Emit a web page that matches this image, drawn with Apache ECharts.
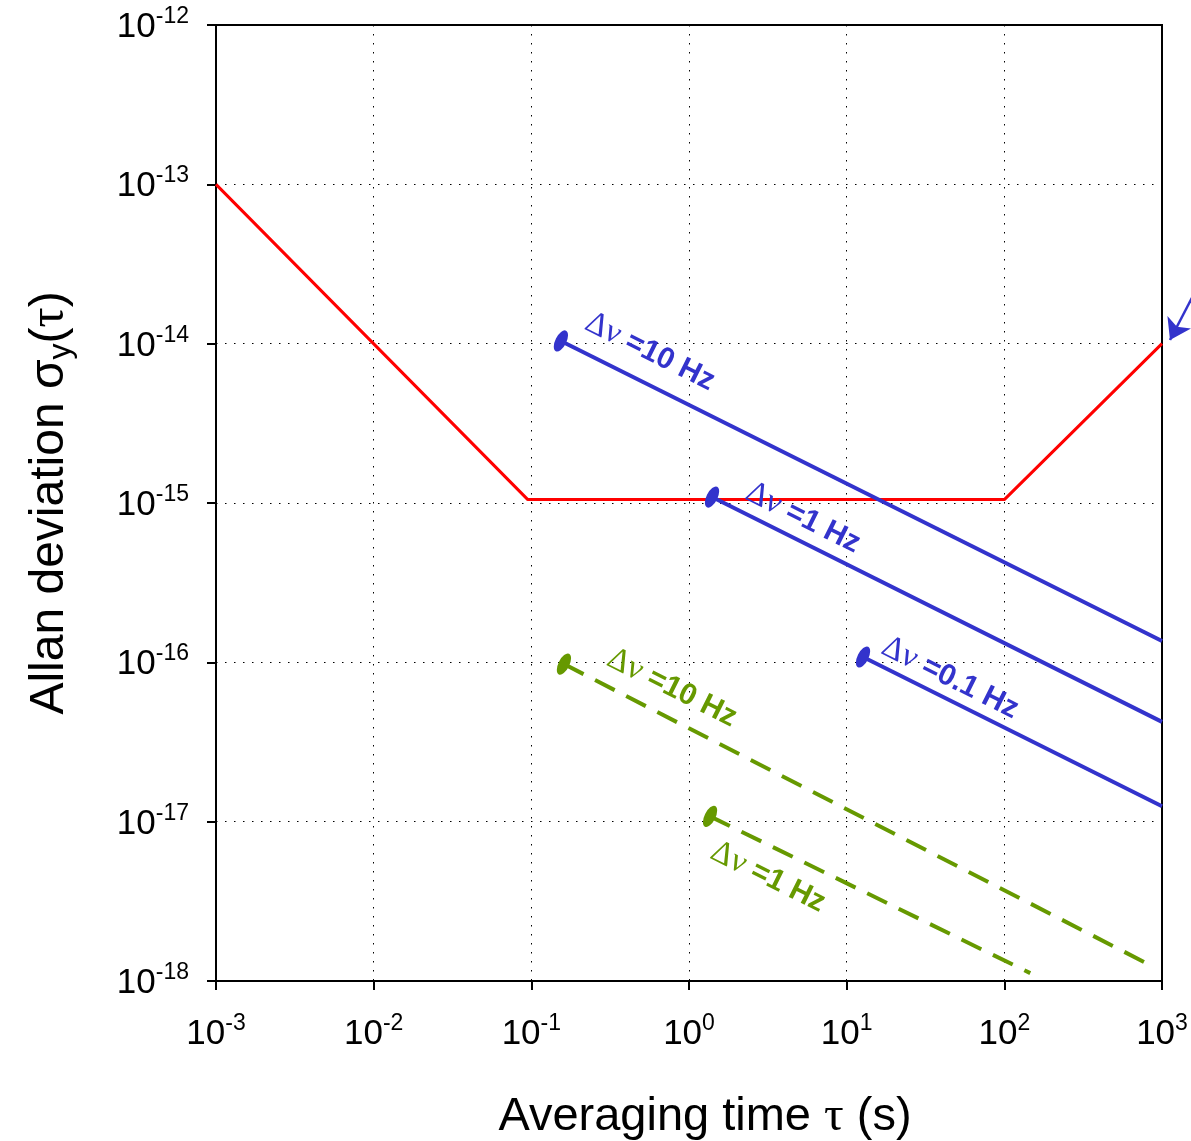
<!DOCTYPE html>
<html><head><meta charset="utf-8">
<script src="https://cdn.jsdelivr.net/npm/echarts@6/dist/echarts.min.js"></script>
<style>html,body{margin:0;padding:0;background:#fff}#c{width:1191px;height:1141px}</style>
</head><body><div id="c"></div>
<script>
// ---- data ----
const xTickExponents = [-3, -2, -1, 0, 1, 2, 3];
const yTickExponents = [-18, -17, -16, -15, -14, -13, -12];

const redTau = [0.001, 0.095, 100, 1000];
const redSigma = [1e-13, 1.05e-15, 1.05e-15, 1e-14];

const blue10Tau = [0.154, 1000];
const blue10Sigma = [1.04e-14, 1.36e-16];
const blue1Tau = [1.40, 1000];
const blue1Sigma = [1.09e-15, 4.23e-17];
const blue01Tau = [12.7, 1000];
const blue01Sigma = [1.08e-16, 1.25e-17];

const green10Tau = [0.161, 839];
const green10Sigma = [9.75e-17, 1.26e-18];
const green1Tau = [1.36, 146];
const green1Sigma = [1.08e-17, 1.12e-18];

const arrowTau = [1549, 1124];
const arrowSigma = [1.94e-14, 1.055e-14];

const blueLabels = ['=10 Hz', '=1 Hz', '=0.1 Hz'];
const greenLabels = ['=10 Hz', '=1 Hz'];

// ---- styles ----
const RED = '#ff0000', BLUE = '#3333cc', GREEN = '#669900';
const SANS = 'Liberation Sans';
const SERIF = 'Liberation Serif';

function pts(t, s) { return t.map((v, i) => [v, s[i]]); }

function trendSeries(name, tau, sigma, color, dashed) {
  const p = pts(tau, sigma);
  return {
    name, type: 'line', z: 3,
    symbol: 'circle', symbolSize: [11, 23], symbolRotate: -26.5, showSymbol: true,
    data: [{ value: p[0] }, { value: p[1], symbol: 'none' }],
    lineStyle: { color, width: 4, type: dashed ? [22, 13] : 'solid', cap: 'butt' },
    itemStyle: { color, borderWidth: 0 },
    emphasis: { disabled: true }, silent: true, animation: false
  };
}

const labelOffsets = [[84.6, -29.9], [90.8, -21.8], [87.3, -20], [107.4, -26.7], [79.1, 28.7]];
const starts = [
  [blue10Tau[0], blue10Sigma[0], blueLabels[0], BLUE],
  [blue1Tau[0], blue1Sigma[0], blueLabels[1], BLUE],
  [blue01Tau[0], blue01Sigma[0], blueLabels[2], BLUE],
  [green10Tau[0], green10Sigma[0], greenLabels[0], GREEN],
  [green1Tau[0], green1Sigma[0], greenLabels[1], GREEN]
];
const labelData = starts.map((s, i) => ({
  value: [s[0], s[1]],
  label: {
    show: true, position: 'inside', rotate: -26.5, offset: labelOffsets[i],
    color: s[3], textBorderWidth: 0, opacity: 1,
    formatter: '{g|\u0394\u03bd}{b| ' + s[2] + '}',
    rich: {
      g: { fontFamily: SERIF, fontSize: 33, color: s[3], textBorderWidth: 0 },
      b: { fontFamily: SANS, fontSize: 30, fontWeight: 'bold', color: s[3], textBorderWidth: 0 }
    }
  }
}));

const tickRich = {
  b: { fontFamily: SANS, fontSize: 35, color: '#000', lineHeight: 40, verticalAlign: 'bottom' },
  s: { fontFamily: SANS, fontSize: 23, color: '#000', lineHeight: 30, verticalAlign: 'top' }
};
function tickFmt(v) { return '{b|10}{s|' + Math.round(Math.log10(v)) + '}'; }

const chart = echarts.init(document.getElementById('c'), null, { renderer: 'canvas' });
chart.setOption({
  animation: false,
  backgroundColor: '#fff',
  grid: { left: 216, right: 29, top: 25, bottom: 160, show: true, borderColor: '#000', borderWidth: 2, containLabel: false, outerBoundsMode: 'none' },
  xAxis: {
    type: 'log', logBase: 10,
    min: Math.pow(10, xTickExponents[0]), max: Math.pow(10, xTickExponents[xTickExponents.length - 1]),
    splitNumber: xTickExponents.length - 1,
    name: '{a|Averaging time }{g|\u03c4}{a| (s)}',
    nameLocation: 'middle', nameGap: 109,
    nameTextStyle: {
      padding: [0, 0, 0, 32],
      rich: {
        a: { fontFamily: SANS, fontSize: 47, color: '#000', verticalAlign: 'middle', lineHeight: 54 },
        g: { fontFamily: SERIF, fontSize: 49, color: '#000', verticalAlign: 'middle', lineHeight: 54 }
      }
    },
    axisLine: { show: true, lineStyle: { color: '#000', width: 2 } },
    axisTick: { show: true, length: 9, inside: false, lineStyle: { color: '#000', width: 2 } },
    minorTick: { show: false },
    axisLabel: { margin: 31, formatter: tickFmt, rich: tickRich },
    splitLine: { show: true, lineStyle: { color: '#000', width: 1, type: [1.5, 7.5] } }
  },
  yAxis: {
    type: 'log', logBase: 10,
    min: Math.pow(10, yTickExponents[0]), max: Math.pow(10, yTickExponents[yTickExponents.length - 1]),
    splitNumber: yTickExponents.length - 1,
    name: '{a|Allan deviation \u03c3}{s|y}{a|(}{g|\u03c4}{a|)}',
    nameLocation: 'middle', nameGap: 139,
    nameTextStyle: {
      rich: {
        a: { fontFamily: SANS, fontSize: 48, color: '#000', verticalAlign: 'middle', lineHeight: 54 },
        s: { fontFamily: SANS, fontSize: 32, color: '#000', verticalAlign: 'bottom', lineHeight: 28 },
        g: { fontFamily: SERIF, fontSize: 50, color: '#000', verticalAlign: 'middle', lineHeight: 54 }
      }
    },
    axisLine: { show: true, lineStyle: { color: '#000', width: 2 } },
    axisTick: { show: true, length: 9, inside: false, lineStyle: { color: '#000', width: 2 } },
    minorTick: { show: false },
    axisLabel: { margin: 27, formatter: tickFmt, rich: tickRich },
    splitLine: { show: true, lineStyle: { color: '#000', width: 1, type: [1.5, 7.5] } }
  },
  series: [
    {
      name: 'limit', type: 'line', z: 2, symbol: 'none', silent: true,
      data: pts(redTau, redSigma),
      lineStyle: { color: RED, width: 3 }, itemStyle: { color: RED }
    },
    trendSeries('blue10', blue10Tau, blue10Sigma, BLUE, false),
    trendSeries('blue1', blue1Tau, blue1Sigma, BLUE, false),
    trendSeries('blue01', blue01Tau, blue01Sigma, BLUE, false),
    trendSeries('green10', green10Tau, green10Sigma, GREEN, true),
    trendSeries('green1', green1Tau, green1Sigma, GREEN, true),
    {
      name: 'labels', type: 'scatter', z: 5, silent: true,
      symbolSize: 1, itemStyle: { color: 'rgba(255,255,255,0)' },
      data: labelData
    },
    {
      name: 'arrow', type: 'lines', coordinateSystem: 'cartesian2d', clip: false, z: 5, silent: true,
      symbol: ['none', 'arrow'], symbolSize: 20,
      lineStyle: { color: BLUE, width: 2.5, opacity: 1, curveness: 0 },
      data: [{ coords: pts(arrowTau, arrowSigma) }]
    }
  ]
});
</script></body></html>
